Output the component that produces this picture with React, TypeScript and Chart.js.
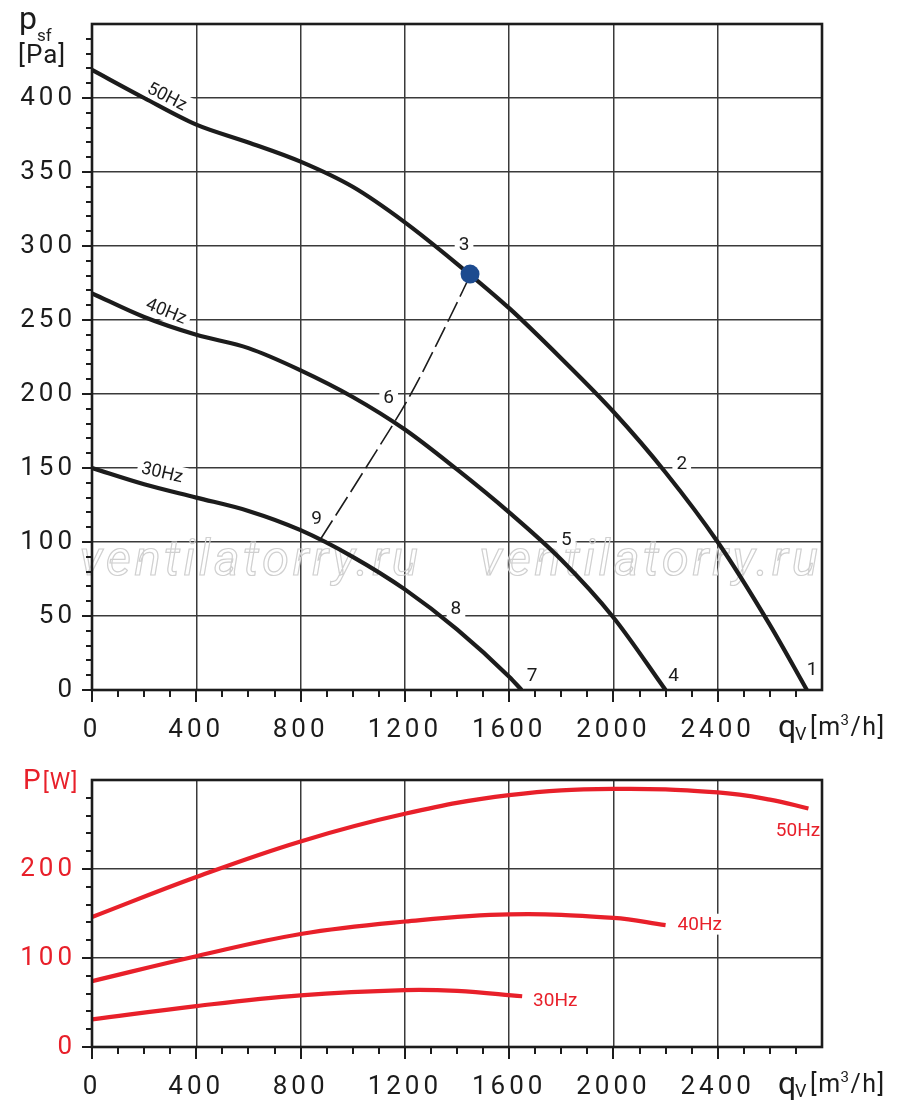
import React, { useEffect, useRef } from "react";
import { Chart, registerables } from "chart.js";

Chart.register(...registerables);

// ---------- data ----------
const Q_MAX = 2800;
const P_MAX = 450;
const W_MAX = 300;

// static pressure curves (q in m3/h, p in Pa)
const q50 = [0, 200, 400, 600, 800, 1000, 1200, 1400, 1600, 1800, 2000, 2200, 2400, 2600, 2742];
const p50 = [419, 400, 382, 370, 357, 340, 316, 288, 258, 224, 188, 147, 100, 44, 0];
const q40 = [0, 200, 400, 600, 800, 1000, 1200, 1400, 1600, 1800, 2000, 2200];
const p40 = [268, 252, 240, 231, 216, 198, 176, 149, 120, 88, 49, 0];
const q30 = [0, 200, 400, 600, 800, 1000, 1200, 1400, 1600, 1648];
const p30 = [150, 139, 130, 121, 108, 90, 68, 41, 9, 0];

// system curve (dashed) and duty point
const qSys = [877, 1050, 1223, 1368, 1450];
const pSys = [102, 150, 200, 250, 280];
const qDuty = [1450];
const pDuty = [281];

// power curves (q in m3/h, P in W)
const qW50 = [0, 400, 800, 1200, 1600, 2000, 2400, 2600, 2748];
const w50 = [146, 191, 231, 262, 283, 290, 286, 278, 268];
const qW40 = [0, 400, 800, 1200, 1600, 2000, 2200];
const w40 = [74, 102, 127, 141, 149, 145, 137];
const qW30 = [0, 400, 800, 1200, 1400, 1650];
const w30 = [31, 46, 58, 64, 63, 57];

// annotations
const pointTags = ["1", "2", "3", "4", "5", "6", "7", "8", "9"];
const pointTagQ = [2762, 2262, 1427, 2231, 1819, 1138, 1688, 1396, 861];
const pointTagP = [14, 153, 301, 10, 102, 198, 10, 55, 116];

const speedTags = ["50Hz", "40Hz", "30Hz"];
const speedTagQ = [288, 285, 269];
const speedTagP = [401, 256, 147];
const speedTagAngle = [27, 22, 13];

const powerTagQ = [2708, 2331, 1777];
const powerTagW = [243, 138, 53];

const watermarkText = "ventilatorry.ru";
const watermarkQ = [608, 2142];
const watermarkP = [78, 78];

// ---------- styles ----------
const INK = "#1c1c1c";
const GRID = "#3a3a3a";
const RED = "#e8202a";
const BLUE = "#1d4b8f";
const FONT = "Roboto, 'DejaVu Sans', sans-serif";

const zip = (xs: number[], ys: number[]) => xs.map((x, i) => ({ x, y: ys[i] }));

type Tag = { text: string; q: number; v: number; angle: number; color: string; size: number };

function decorPlugin(cfg: {
  yMax: number;
  yMinor: number;
  yMajor: number;
  tags: Tag[];
  watermark: boolean;
  titles: (ctx: CanvasRenderingContext2D) => void;
}) {
  return {
    id: "decor",
    beforeDraw(chart: any) {
      chart.ctx.letterSpacing = "4px";
    },
    beforeDatasetsDraw(chart: any) {
      const { ctx } = chart;
      const x = chart.scales.x;
      const y = chart.scales.y;
      ctx.save();
      ctx.letterSpacing = "0px";
      if (cfg.watermark) {
        ctx.font = `italic 49px ${FONT}`;
        ctx.letterSpacing = "3.6px";
        ctx.strokeStyle = "#d0d0d0";
        ctx.lineWidth = 1.2;
        ctx.textAlign = "center";
        ctx.textBaseline = "alphabetic";
        for (let i = 0; i < watermarkQ.length; i++) {
          ctx.strokeText(watermarkText, x.getPixelForValue(watermarkQ[i]), y.getPixelForValue(watermarkP[i]));
        }
        ctx.letterSpacing = "0px";
      }
      for (const t of cfg.tags) {
        const px = x.getPixelForValue(t.q);
        const py = y.getPixelForValue(t.v);
        ctx.save();
        ctx.translate(px, py);
        ctx.rotate((t.angle * Math.PI) / 180);
        ctx.font = `${t.size}px ${FONT}`;
        const w = ctx.measureText(t.text).width;
        ctx.fillStyle = "#fff";
        ctx.fillRect(-w / 2 - 4, -t.size * 0.55, w + 8, t.size * 1.1);
        ctx.fillStyle = t.color;
        ctx.textAlign = "center";
        ctx.textBaseline = "middle";
        ctx.fillText(t.text, 0, 1);
        ctx.restore();
      }
      ctx.restore();
    },
    afterDraw(chart: any) {
      const { ctx, chartArea } = chart;
      const { left, right, top, bottom } = chartArea;
      const x = chart.scales.x;
      const y = chart.scales.y;
      ctx.save();
      ctx.letterSpacing = "0px";
      ctx.strokeStyle = INK;
      ctx.lineWidth = 2;
      ctx.beginPath();
      for (let v = 0; v < cfg.yMax; v += cfg.yMinor) {
        const py = Math.round(y.getPixelForValue(v));
        const len = v % cfg.yMajor === 0 ? 10 : 6;
        ctx.moveTo(left - len, py);
        ctx.lineTo(left, py);
      }
      for (let v = 0; v < Q_MAX; v += 100) {
        const px = Math.round(x.getPixelForValue(v));
        const len = v % 400 === 0 ? 12 : 7;
        ctx.moveTo(px, bottom);
        ctx.lineTo(px, bottom + len);
      }
      ctx.stroke();
      ctx.lineWidth = 2.6;
      ctx.strokeRect(left, top, right - left, bottom - top);
      cfg.titles(ctx);
      ctx.restore();
    },
  };
}

function drawQTitle(ctx: CanvasRenderingContext2D, baseY: number) {
  ctx.fillStyle = INK;
  ctx.textAlign = "left";
  ctx.textBaseline = "alphabetic";
  ctx.font = `32px ${FONT}`;
  ctx.fillText("q", 778, baseY);
  ctx.font = `18px ${FONT}`;
  ctx.fillText("V", 795, baseY + 3);
  ctx.letterSpacing = "1.5px";
  ctx.font = `25px ${FONT}`;
  let cx = 810;
  ctx.fillText("[m", cx, baseY - 2);
  cx += ctx.measureText("[m").width;
  ctx.font = `15px ${FONT}`;
  ctx.fillText("3", cx - 1, baseY - 12);
  cx += ctx.measureText("3").width - 1;
  ctx.font = `25px ${FONT}`;
  ctx.fillText("/h]", cx, baseY - 2);
  ctx.letterSpacing = "0px";
}

function xScale(labelColor: string, height: number) {
  return {
    type: "linear" as const,
    min: 0,
    max: Q_MAX,
    afterFit: (s: any) => {
      s.height = height;
      s.paddingLeft = 0;
      s.paddingRight = 0;
    },
    border: { display: false },
    grid: {
      drawTicks: false,
      lineWidth: 1.5,
      color: (c: any) => (c.tick && c.tick.value % 400 === 0 ? GRID : "transparent"),
    },
    ticks: {
      stepSize: 100,
      autoSkip: false,
      maxRotation: 0,
      minRotation: 0,
      padding: 25,
      color: labelColor,
      font: { family: FONT, size: 26 },
      callback: (v: any) => (Number(v) % 400 === 0 && Number(v) < Q_MAX ? String(v) : ""),
    },
  };
}

function yScale(max: number, minor: number, major: number, color: string) {
  return {
    type: "linear" as const,
    min: 0,
    max,
    afterFit: (s: any) => {
      s.width = 92;
      s.paddingTop = 0;
      s.paddingBottom = 0;
    },
    border: { display: false },
    grid: {
      drawTicks: false,
      lineWidth: 1.5,
      color: (c: any) => (c.tick && c.tick.value % major === 0 ? GRID : "transparent"),
    },
    ticks: {
      stepSize: minor,
      autoSkip: false,
      padding: 16,
      color,
      font: { family: FONT, size: 26 },
      callback: (v: any) => (Number(v) % major === 0 && Number(v) < max ? String(v) : ""),
    },
  };
}

function PressureChart() {
  const ref = useRef<HTMLCanvasElement>(null);
  useEffect(() => {
    const tags: Tag[] = [
      ...pointTags.map((t, i) => ({ text: t, q: pointTagQ[i], v: pointTagP[i], angle: 0, color: INK, size: 19 })),
      ...speedTags.map((t, i) => ({ text: t, q: speedTagQ[i], v: speedTagP[i], angle: speedTagAngle[i], color: INK, size: 18 })),
    ];
    const curve = (xs: number[], ys: number[]) => ({
      data: zip(xs, ys),
      borderColor: INK,
      borderWidth: 4.2,
      pointRadius: 0,
      cubicInterpolationMode: "monotone" as const,
      fill: false,
    });
    const chart = new Chart(ref.current!, {
      type: "line",
      data: {
        datasets: [
          {
            type: "scatter",
            data: zip(qDuty, pDuty),
            pointRadius: 9.5,
            pointBackgroundColor: BLUE,
            pointBorderWidth: 0,
            showLine: false,
          } as any,
          {
            data: zip(qSys, pSys),
            borderColor: INK,
            borderWidth: 1.6,
            borderDash: [22, 6],
            pointRadius: 0,
            cubicInterpolationMode: "monotone",
            fill: false,
          },
          curve(q50, p50),
          curve(q40, p40),
          curve(q30, p30),
        ],
      },
      options: {
        animation: false,
        responsive: false,
        events: [],
        layout: { padding: { left: 0, right: 78, top: 24, bottom: 0 } },
        plugins: { legend: { display: false }, tooltip: { enabled: false } },
        scales: {
          x: xScale(INK, 60) as any,
          y: yScale(P_MAX, 10, 50, INK) as any,
        },
      },
      plugins: [
        decorPlugin({
          yMax: P_MAX,
          yMinor: 10,
          yMajor: 50,
          tags,
          watermark: true,
          titles: (ctx) => {
            ctx.fillStyle = INK;
            ctx.textAlign = "left";
            ctx.textBaseline = "alphabetic";
            ctx.font = `32px ${FONT}`;
            ctx.fillText("p", 19, 29);
            ctx.font = `17px ${FONT}`;
            ctx.fillText("sf", 37, 41);
            ctx.letterSpacing = "1px";
            ctx.font = `26px ${FONT}`;
            ctx.fillText("[Pa]", 18, 63);
            ctx.letterSpacing = "0px";
            drawQTitle(ctx, 737);
          },
        }) as any,
      ],
    });
    return () => chart.destroy();
  }, []);
  return <canvas ref={ref} width={900} height={750} style={{ position: "absolute", left: 0, top: 0, width: 900, height: 750 }} />;
}

function PowerChart() {
  const ref = useRef<HTMLCanvasElement>(null);
  useEffect(() => {
    const tags: Tag[] = speedTags.map((t, i) => ({
      text: t,
      q: powerTagQ[i],
      v: powerTagW[i],
      angle: 0,
      color: RED,
      size: 19,
    }));
    const curve = (xs: number[], ys: number[]) => ({
      data: zip(xs, ys),
      borderColor: RED,
      borderWidth: 4.2,
      pointRadius: 0,
      tension: 0.4,
      fill: false,
    });
    const chart = new Chart(ref.current!, {
      type: "line",
      data: { datasets: [curve(qW50, w50), curve(qW40, w40), curve(qW30, w30)] },
      options: {
        animation: false,
        responsive: false,
        events: [],
        layout: { padding: { left: 0, right: 78, top: 30, bottom: 0 } },
        plugins: { legend: { display: false }, tooltip: { enabled: false } },
        scales: {
          x: xScale(INK, 72) as any,
          y: yScale(W_MAX, 20, 100, RED) as any,
        },
      },
      plugins: [
        decorPlugin({
          yMax: W_MAX,
          yMinor: 20,
          yMajor: 100,
          tags,
          watermark: false,
          titles: (ctx) => {
            ctx.fillStyle = RED;
            ctx.textAlign = "left";
            ctx.textBaseline = "alphabetic";
            ctx.font = `28px ${FONT}`;
            ctx.fillText("P", 23, 39);
            const w = ctx.measureText("P").width;
            ctx.letterSpacing = "1px";
            ctx.font = `23px ${FONT}`;
            ctx.fillText("[W]", 23 + w + 2, 39);
            ctx.letterSpacing = "0px";
            drawQTitle(ctx, 344);
          },
        }) as any,
      ],
    });
    return () => chart.destroy();
  }, []);
  return <canvas ref={ref} width={900} height={369} style={{ position: "absolute", left: 0, top: 750, width: 900, height: 369 }} />;
}

export default function App() {
  return (
    <div style={{ position: "absolute", left: 0, top: 0, width: 900, height: 1119, background: "#fff" }}>
      <PressureChart />
      <PowerChart />
    </div>
  );
}
